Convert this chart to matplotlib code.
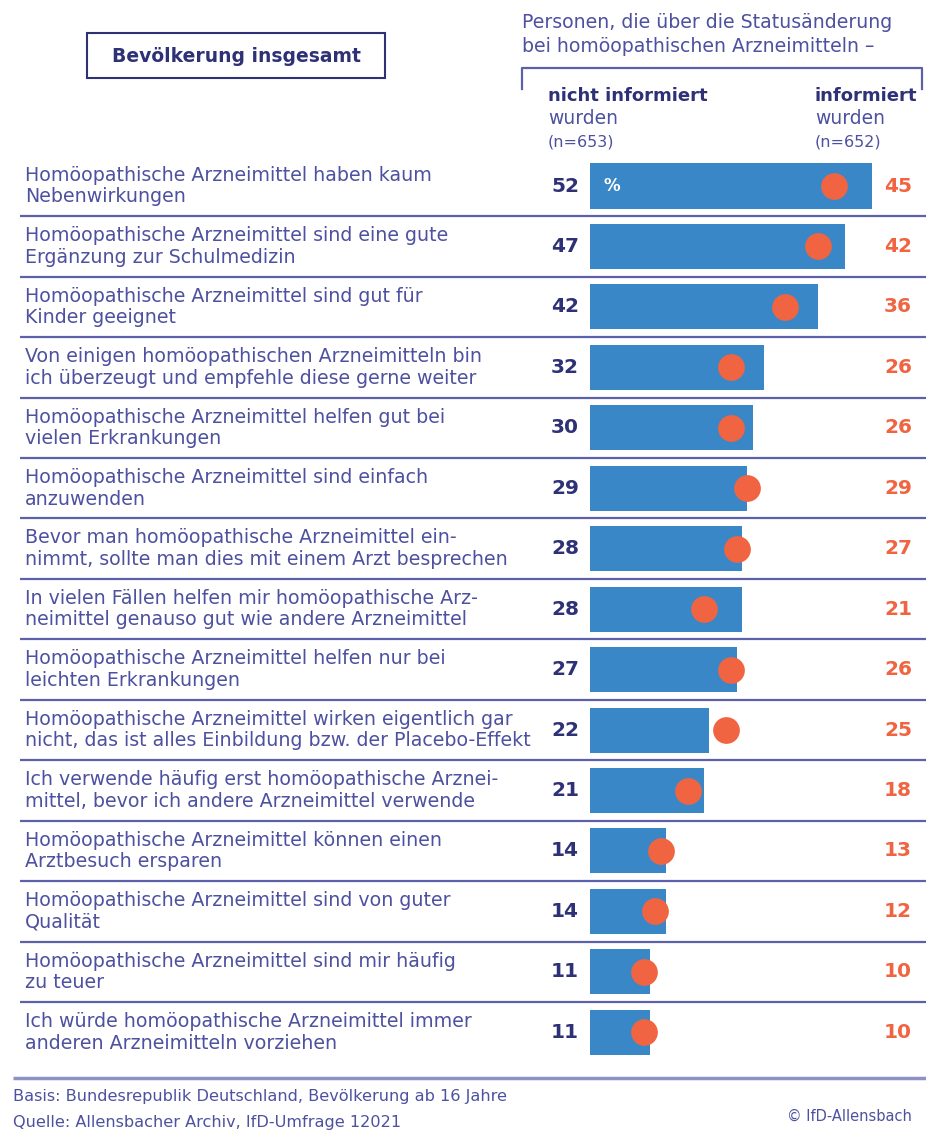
import matplotlib.pyplot as plt
from matplotlib.patches import Rectangle

labels = [
    "Homöopathische Arzneimittel haben kaum\nNebenwirkungen",
    "Homöopathische Arzneimittel sind eine gute\nErgänzung zur Schulmedizin",
    "Homöopathische Arzneimittel sind gut für\nKinder geeignet",
    "Von einigen homöopathischen Arzneimitteln bin\nich überzeugt und empfehle diese gerne weiter",
    "Homöopathische Arzneimittel helfen gut bei\nvielen Erkrankungen",
    "Homöopathische Arzneimittel sind einfach\nanzuwenden",
    "Bevor man homöopathische Arzneimittel ein-\nnimmt, sollte man dies mit einem Arzt besprechen",
    "In vielen Fällen helfen mir homöopathische Arz-\nneimittel genauso gut wie andere Arzneimittel",
    "Homöopathische Arzneimittel helfen nur bei\nleichten Erkrankungen",
    "Homöopathische Arzneimittel wirken eigentlich gar\nnicht, das ist alles Einbildung bzw. der Placebo-Effekt",
    "Ich verwende häufig erst homöopathische Arznei-\nmittel, bevor ich andere Arzneimittel verwende",
    "Homöopathische Arzneimittel können einen\nArztbesuch ersparen",
    "Homöopathische Arzneimittel sind von guter\nQualität",
    "Homöopathische Arzneimittel sind mir häufig\nzu teuer",
    "Ich würde homöopathische Arzneimittel immer\nanderen Arzneimitteln vorziehen",
]
nicht_informiert = [52, 47, 42, 32, 30, 29, 28, 28, 27, 22, 21, 14, 14, 11, 11]
informiert = [45, 42, 36, 26, 26, 29, 27, 21, 26, 25, 18, 13, 12, 10, 10]

W, H = 926, 1133
BAR = "#3a87c8"
DOT = "#f06441"
NAVY = "#2e3175"
LBL = "#4d519f"
LINE = "#5c61aa"

# pixel layout
x0, kx = 590, 5.43      # bar origin, px per percent
y0, ky = 186, 60.45     # first row center, px per row


def dx(px):
    return (px - x0) / kx


def dy(py):
    return (py - y0) / ky


fig = plt.figure(figsize=(W / 100, H / 100), dpi=100)
fig.patch.set_facecolor("white")
ax = fig.add_axes([0, 0, 1, 1])
ax.set_xlim(dx(0), dx(W))
ax.set_ylim(dy(H), dy(0))
ax.axis("off")

rows = range(len(labels))
ax.barh(rows, nicht_informiert, height=0.745, left=0, color=BAR, zorder=2)
ax.scatter(informiert, rows, s=370, color=DOT, zorder=3, linewidths=0)

for i, (lab, a, b) in enumerate(zip(labels, nicht_informiert, informiert)):
    ax.text(dx(25), i, lab, ha="left", va="center", fontsize=13.7,
            color=LBL, linespacing=1.17)
    ax.text(dx(579), i, str(a), ha="right", va="center", fontsize=14.5,
            color=NAVY, fontweight="bold")
    ax.text(dx(912), i, str(b), ha="right", va="center", fontsize=14.5,
            color=DOT, fontweight="bold")
ax.text(dx(603), 0, "%", ha="left", va="center", fontsize=12,
        color="white", fontweight="bold")

# row separators
ax.hlines([i + 0.5 for i in range(len(labels) - 1)], dx(20), dx(W),
          color=LINE, lw=1.6, zorder=1)
ax.hlines(dy(1078), dx(13), dx(W), color="#8d91c6", lw=2.5)

# header
fx = lambda px: px / W
fy = lambda py: 1 - py / H
fig.patches.append(Rectangle((fx(87), fy(78)), fx(385) - fx(87), fy(33) - fy(78),
                             transform=fig.transFigure, fill=False,
                             edgecolor=NAVY, lw=1.5))
fig.text(fx(236), fy(56), "Bevölkerung insgesamt", ha="center", va="center",
         fontsize=13.5, fontweight="bold", color=NAVY)

fig.text(fx(522), fy(22), "Personen, die über die Statusänderung",
         ha="left", va="center", fontsize=13.6, color=LBL)
fig.text(fx(522), fy(46), "bei homöopathischen Arzneimitteln –",
         ha="left", va="center", fontsize=13.6, color=LBL)
ax.plot([dx(522), dx(522), dx(922), dx(922)],
        [dy(89), dy(68), dy(68), dy(89)], color=LINE, lw=1.6)

for xp, head, n in [(548, "nicht informiert", "(n=653)"),
                    (815, "informiert", "(n=652)")]:
    fig.text(fx(xp), fy(96), head, ha="left", va="center", fontsize=13,
             fontweight="bold", color=NAVY)
    fig.text(fx(xp), fy(119), "wurden", ha="left", va="center",
             fontsize=13.5, color=LBL)
    fig.text(fx(xp), fy(142), n, ha="left", va="center", fontsize=11.5,
             color=LBL)

# footer
fig.text(fx(13), fy(1097), "Basis: Bundesrepublik Deutschland, Bevölkerung ab 16 Jahre",
         ha="left", va="center", fontsize=11.6, color=LBL)
fig.text(fx(13), fy(1122), "Quelle: Allensbacher Archiv, IfD-Umfrage 12021",
         ha="left", va="center", fontsize=11.6, color=LBL)
fig.text(fx(912), fy(1116), "© IfD-Allensbach", ha="right", va="center",
         fontsize=10.5, color=LBL)

fig.savefig("out.png", dpi=100)
